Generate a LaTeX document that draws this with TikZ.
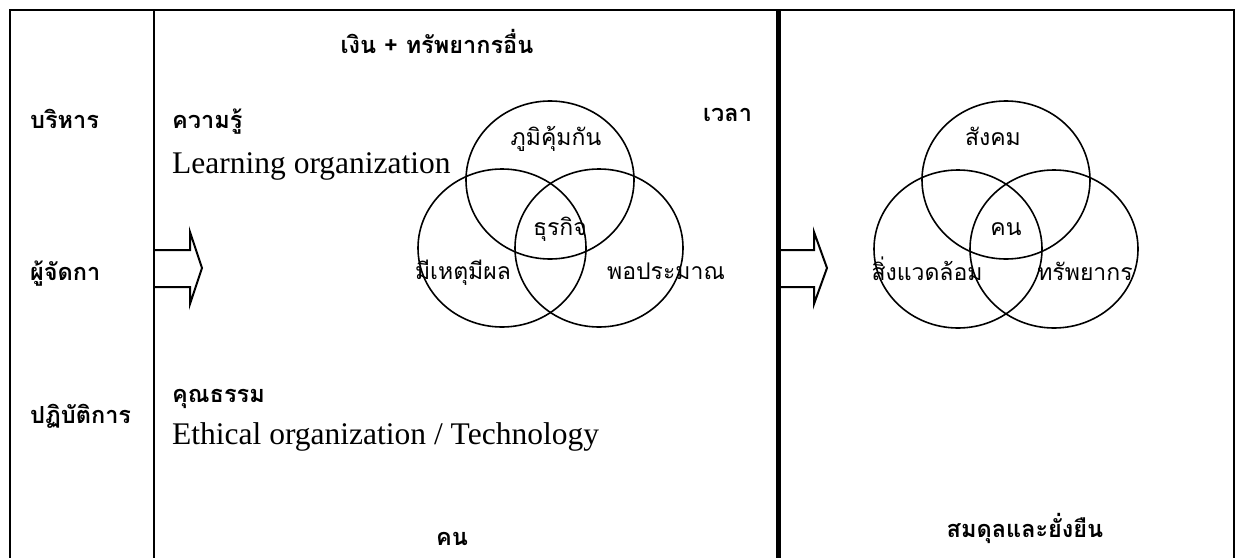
\documentclass[tikz,border=0pt]{standalone}
\usepackage{fontspec}
\setmainfont{Liberation Serif}
\newfontfamily\thai[Script=Thai]{Loma}
\begin{document}
\begin{tikzpicture}[x=1pt,y=-1pt,line join=miter,
  frame/.style={line width=2pt},
  ring/.style={line width=1.6pt},
  thb/.style={font=\thai\bfseries\fontsize{23.5}{23.5}\selectfont,inner sep=0pt,anchor=base west},
  thr/.style={font=\thai\fontsize{23}{23}\selectfont,inner sep=0pt,anchor=base},
  en/.style={font=\fontsize{31.5}{31.5}\selectfont,inner sep=0pt,anchor=base west}]
\useasboundingbox (0,0) rectangle (1242,557);
\fill[white] (0,0) rectangle (1242,557);
% frame
\draw[frame] (10,560) -- (10,10) -- (1234,10) -- (1234,560);
\draw[frame] (154,10) -- (154,560);
\draw[line width=5pt] (778,10) -- (778,560);
% arrows
\draw[frame] (154,250) -- (190,250) -- (190,232) -- (202,268) -- (190,304) -- (190,287) -- (154,287);
\draw[frame] (780,250) -- (814,250) -- (814,232) -- (827,268) -- (814,304) -- (814,287) -- (780,287);
% left venn
\draw[ring] (550,180) ellipse [x radius=84pt,y radius=79pt];
\draw[ring] (502,248) ellipse [x radius=84pt,y radius=79pt];
\draw[ring] (599,248) ellipse [x radius=84pt,y radius=79pt];
% right venn
\draw[ring] (1006,180) ellipse [x radius=84pt,y radius=79pt];
\draw[ring] (958,249) ellipse [x radius=84pt,y radius=79pt];
\draw[ring] (1054,249) ellipse [x radius=84pt,y radius=79pt];
% left column
\node[thb] (bor) at (30,128) {บริหาร};
\node[thb] (mgr) at (30,280) {ผู้จัดกา};
\node[thb] (opr) at (30,423) {ปฏิบัติการ};
% middle texts
\node[thb,anchor=base] (money) at (437,53) {เงิน + ทรัพยากรอื่น};
\node[thb] (know) at (172,128) {ความรู้};
\node[en] (learn) at (172,173) {Learning organization};
\node[thb] (time) at (703,121) {เวลา};
\node[thb] (virtue) at (172,402) {คุณธรรม};
\node[en] (ethic) at (172,444) {Ethical organization / Technology};
\node[thb,anchor=base] (people) at (452,545) {คน};
% left venn labels
\node[thr] (immune) at (556,145) {ภูมิคุ้มกัน};
\node[thr] (biz) at (560,235) {ธุรกิจ};
\node[thr] (reason) at (463,279) {มีเหตุมีผล};
\node[thr] (moder) at (666,279) {พอประมาณ};
% right venn labels
\node[thr] (soc) at (993,145) {สังคม};
\node[thr] (man) at (1006,235) {คน};
\node[thr] (env) at (927,280) {สิ่งแวดล้อม};
\node[thr] (res) at (1085,280) {ทรัพยากร};
\node[thb,anchor=base] (bal) at (1025,537) {สมดุลและยั่งยืน};
\end{tikzpicture}
\end{document}
